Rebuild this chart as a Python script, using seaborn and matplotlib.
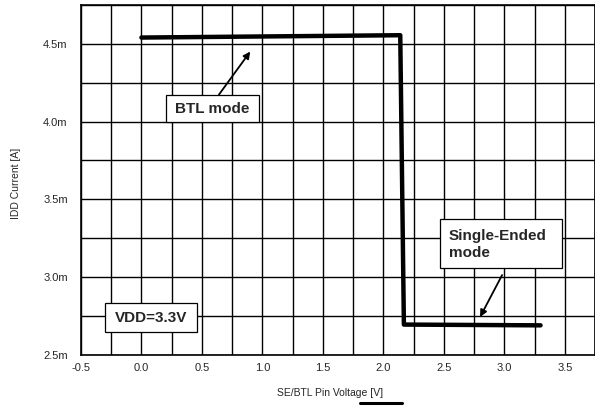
import matplotlib
matplotlib.use("Agg")
import matplotlib.pyplot as plt
from matplotlib.ticker import MultipleLocator, FuncFormatter
from matplotlib.lines import Line2D
from matplotlib.patches import Rectangle
import numpy as np
import pandas as pd
import seaborn as sns

# Supply current versus SE/BTL pin voltage
pin_voltage = [0.0, 2.14, 2.17, 3.3]
idd_current = [4.540e-3, 4.555e-3, 2.695e-3, 2.690e-3]

x_ticks = [-0.5, 0.0, 0.5, 1.0, 1.5, 2.0, 2.5, 3.0, 3.5]
y_ticks = [2.5e-3, 3.0e-3, 3.5e-3, 4.0e-3, 4.5e-3]

sns.set_style("white")
plt.rcParams["font.family"] = ["Liberation Sans", "DejaVu Sans"]

df = pd.DataFrame({"voltage": pin_voltage, "current": idd_current})

fig = plt.figure(figsize=(5.95, 4.07), dpi=100)
ax = fig.add_axes([0.136, 0.128, 0.864, 0.86])

ax.set_xlim(-0.5, 3.75)
ax.set_ylim(2.5e-3, 4.75e-3)
ax.xaxis.set_minor_locator(MultipleLocator(0.25))
ax.yaxis.set_minor_locator(MultipleLocator(0.25e-3))
ax.set_xticks(x_ticks)
ax.set_yticks(y_ticks)
ax.xaxis.set_major_formatter(FuncFormatter(lambda v, p: f"{v:.1f}"))
ax.yaxis.set_major_formatter(FuncFormatter(lambda v, p: f"{v * 1e3:.1f}m"))
ax.grid(which="both", color="black", linewidth=1.0)
ax.set_axisbelow(True)
ax.tick_params(which="both", length=0, labelsize=8)
ax.tick_params(axis="y", pad=9.5)
ax.tick_params(axis="x", pad=6)
for s in ax.spines.values():
    s.set_color("black")
    s.set_linewidth(1.2)

sns.lineplot(data=df, x="voltage", y="current", sort=False, color="black",
             linewidth=3.2, ax=ax, zorder=3)

ax.set_xlabel("SE/BTL Pin Voltage [V]", fontsize=7.5)
ax.set_ylabel("IDD Current [A]", fontsize=7.5)
ax.xaxis.set_label_coords(0.485, -0.095)
ax.yaxis.set_label_coords(-0.117, 0.49)

# Callout boxes: (x0, y0, width, height) in data units
def callout(x0, y0, w, h):
    ax.add_patch(Rectangle((x0, y0), w, h, facecolor="white",
                           edgecolor="black", linewidth=0.9, zorder=5))

callout(0.203, 3.994e-3, 0.769, 0.179e-3)
callout(2.469, 3.058e-3, 1.009, 0.314e-3)
callout(-0.301, 2.647e-3, 0.760, 0.186e-3)

ax.text(0.588, 4.083e-3, "BTL mode", fontsize=11, fontweight="bold",
        ha="center", va="center", zorder=6)
ax.text(2.542, 3.212e-3, "Single-Ended\nmode", fontsize=11, fontweight="bold",
        ha="left", va="center", zorder=6, linespacing=1.25)
ax.text(0.079, 2.740e-3, "VDD=3.3V", fontsize=11, fontweight="bold",
        ha="center", va="center", zorder=6)

arrow = dict(arrowstyle="-|>", color="black", linewidth=1.3,
             mutation_scale=10, shrinkA=0, shrinkB=0)
ax.annotate("", xy=(0.90, 4.45e-3), xytext=(0.641, 4.173e-3),
            arrowprops=arrow, zorder=4)
ax.annotate("", xy=(2.80, 2.744e-3), xytext=(2.982, 3.013e-3),
            arrowprops=arrow, zorder=4)

fig.add_artist(Line2D([0.605, 0.676], [0.009, 0.009], color="black",
                      linewidth=2.2, transform=fig.transFigure))

fig.savefig("out.png", dpi=100)
